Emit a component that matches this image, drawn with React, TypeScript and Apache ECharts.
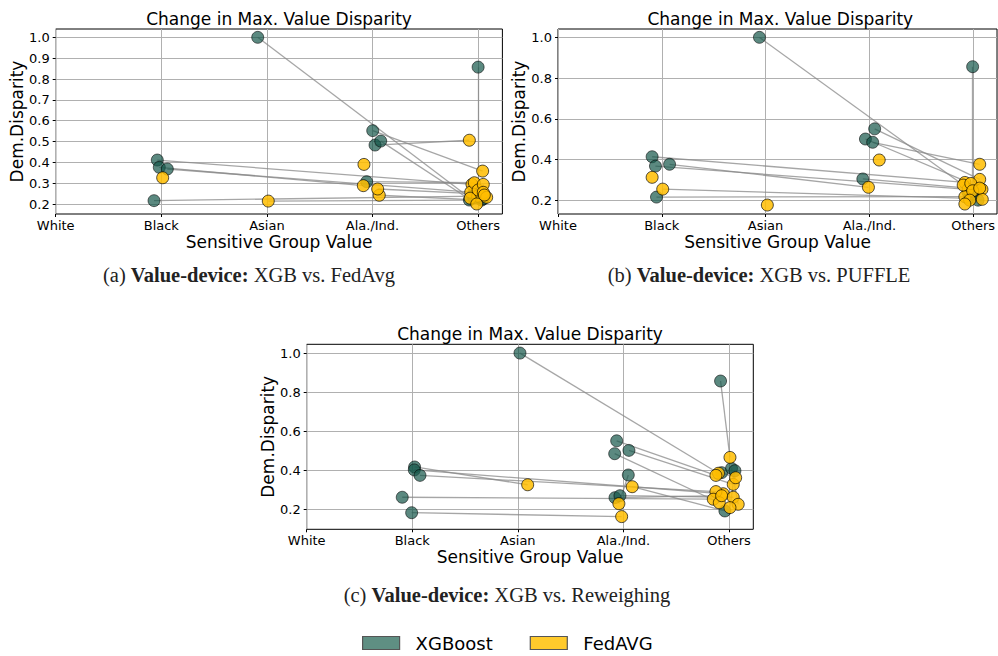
import React, { useEffect, useRef } from 'react';
import * as echarts from 'echarts';

const categories = ['White', 'Black', 'Asian', 'Ala./Ind.', 'Others'];
const xTickValues = [0, 1, 2, 3, 4];
const yTicksA = [0.2, 0.3, 0.4, 0.5, 0.6, 0.7, 0.8, 0.9, 1.0];
const yTicksBC = [0.2, 0.4, 0.6, 0.8, 1.0];

const seriesNames = ['XGBoost', 'FedAVG'];
const panelTitle = 'Change in Max. Value Disparity';
const xAxisTitle = 'Sensitive Group Value';
const yAxisTitle = 'Dem.Disparity';

// Panel (a): XGB vs. FedAvg  (x = group index + jitter); paired XGB -> other model
const aXgbX = [0.962, 0.981, 1.057, 0.931, 1.913, 3.002, 3.024, 3.078, 2.945, 4.000, 3.917, 4.034, 3.960, 4.020, 3.990, 4.050, 3.960];
const aXgbY = [0.411, 0.376, 0.368, 0.216, 1.000, 0.552, 0.483, 0.502, 0.307, 0.857, 0.219, 0.219, 0.250, 0.230, 0.240, 0.225, 0.230];
const aFedX = [3.942, 2.913, 3.930, 3.996, 3.925, 4.043, 3.917, 3.987, 3.964, 4.000, 2.013, 3.064, 3.049, 4.049, 4.049, 4.081, 4.059];
const aFedY = [0.294, 0.288, 0.257, 0.238, 0.228, 0.358, 0.506, 0.200, 0.302, 0.267, 0.214, 0.242, 0.272, 0.294, 0.256, 0.232, 0.243];
// other-model points whose XGB partner stays in the same spot
const aSoloX = [2.919, 1.013];
const aSoloY = [0.390, 0.326];

// Panel (b): XGB vs. PUFFLE
const bXgbX = [0.907, 0.939, 1.075, 0.949, 1.941, 3.051, 2.962, 3.032, 2.937, 3.995, 3.960, 4.047, 4.000, 3.950, 4.030];
const bXgbY = [0.414, 0.368, 0.377, 0.216, 1.000, 0.551, 0.501, 0.485, 0.305, 0.856, 0.210, 0.201, 0.230, 0.240, 0.250];
const bFedX = [3.920, 3.952, 2.991, 3.920, 3.904, 4.063, 3.977, 4.063, 4.085, 3.995, 1.009, 4.088, 3.967, 3.920, 4.063];
const bFedY = [0.288, 0.254, 0.264, 0.218, 0.275, 0.303, 0.283, 0.377, 0.254, 0.247, 0.255, 0.205, 0.201, 0.182, 0.260];
const bSoloX = [2.017, 0.907, 3.095];
const bSoloY = [0.177, 0.313, 0.398];

// Panel (c): XGB vs. Reweighing
const cXgbX = [1.022, 1.019, 1.073, 0.905, 0.994, 2.020, 2.936, 3.052, 2.917, 3.046, 2.920, 2.967, 3.920, 3.961, 3.930, 4.024, 4.056];
const cXgbY = [0.417, 0.402, 0.374, 0.262, 0.183, 1.000, 0.551, 0.502, 0.485, 0.376, 0.260, 0.270, 0.857, 0.192, 0.388, 0.410, 0.398];
const cFedX = [2.093, 3.945, 3.876, 3.851, 2.983, 3.900, 3.876, 4.040, 3.908, 2.957, 3.930, 4.040, 4.009, 3.083, 4.063, 4.087, 4.009];
const cFedY = [0.326, 0.280, 0.291, 0.252, 0.163, 0.385, 0.374, 0.328, 0.234, 0.229, 0.270, 0.262, 0.466, 0.316, 0.362, 0.226, 0.209];
const cSoloX: number[] = [];
const cSoloY: number[] = [];

const captions = [
  { tag: '(a) ', bold: 'Value-device:', rest: ' XGB vs. FedAvg' },
  { tag: '(b) ', bold: 'Value-device:', rest: ' XGB vs. PUFFLE' },
  { tag: '(c) ', bold: 'Value-device:', rest: ' XGB vs. Reweighing' },
];

const panels = [
  { xgbX: aXgbX, xgbY: aXgbY, fedX: aFedX, fedY: aFedY, soloX: aSoloX, soloY: aSoloY, yTicks: yTicksA, yMin: 0.152, yMax: 1.04, xMax: 4.23,
    grid: { left: 55.7, top: 29, width: 446.7, height: 185 }, caption: { x: 249, y: 275 } },
  { xgbX: bXgbX, xgbY: bXgbY, fedX: bFedX, fedY: bFedY, soloX: bSoloX, soloY: bSoloY, yTicks: yTicksBC, yMin: 0.133, yMax: 1.041, xMax: 4.23,
    grid: { left: 558, top: 29, width: 444.6, height: 185 }, caption: { x: 759, y: 275 } },
  { xgbX: cXgbX, xgbY: cXgbY, fedX: cFedX, fedY: cFedY, soloX: cSoloX, soloY: cSoloY, yTicks: yTicksBC, yMin: 0.098, yMax: 1.045, xMax: 4.23,
    grid: { left: 306.7, top: 344.3, width: 446.6, height: 185 }, caption: { x: 507, y: 595 } },
];

const FONT = '"DejaVu Sans", sans-serif';
const SERIF = '"Liberation Serif", "DejaVu Serif", serif';

export default function App() {
  const ref = useRef<HTMLDivElement>(null);
  useEffect(() => {
    if (!ref.current) return;
    const chart = echarts.init(ref.current, undefined, { renderer: 'svg' });

    const grids: any[] = [];
    const xAxes: any[] = [];
    const yAxes: any[] = [];
    const series: any[] = [];
    const graphics: any[] = [];

    panels.forEach((p, i) => {
      grids.push({ ...p.grid, show: true, borderColor: '#000', borderWidth: 1, backgroundColor: 'transparent' });
      xAxes.push({
        type: 'value', gridIndex: i, min: 0, max: p.xMax, interval: 1,
        name: xAxisTitle, nameLocation: 'middle', nameGap: 19,
        nameTextStyle: { fontFamily: FONT, fontSize: 17, color: '#000' },
        axisLine: { show: false },
        axisTick: { show: true, length: 3, lineStyle: { color: '#000' }, customValues: xTickValues },
        axisLabel: {
          fontFamily: FONT, fontSize: 13, color: '#000', margin: 5, customValues: xTickValues,
          formatter: (v: number) => (Number.isInteger(v) ? categories[v] ?? '' : ''),
        },
        splitLine: { show: true, lineStyle: { color: '#b0b0b0', width: 1 } },
      });
      yAxes.push({
        type: 'value', gridIndex: i, min: p.yMin, max: p.yMax,
        name: yAxisTitle, nameLocation: 'middle', nameGap: 30, nameRotate: 90,
        nameTextStyle: { fontFamily: FONT, fontSize: 17, color: '#000' },
        axisLine: { show: false },
        axisTick: { show: true, length: 3, lineStyle: { color: '#000' }, customValues: p.yTicks },
        axisLabel: {
          fontFamily: FONT, fontSize: 13, color: '#000', margin: 6, customValues: p.yTicks,
          formatter: (v: number) => v.toFixed(1),
        },
        splitLine: { show: true, lineStyle: { color: '#b0b0b0', width: 1 } },
      });
      series.push({
        type: 'lines', coordinateSystem: 'cartesian2d', xAxisIndex: i, yAxisIndex: i, silent: true, z: 1,
        lineStyle: { color: '#888888', width: 1.3, opacity: 0.75 },
        data: p.xgbX.map((x, k) => ({ coords: [[x, p.xgbY[k]], [p.fedX[k], p.fedY[k]]] })),
      });
      series.push({
        name: seriesNames[0], type: 'scatter', xAxisIndex: i, yAxisIndex: i, z: 2, symbolSize: 12,
        itemStyle: { color: '#16574a', opacity: 0.7, borderColor: '#000', borderWidth: 0.8 },
        data: p.xgbX.map((x, k) => [x, p.xgbY[k]]),
      });
      series.push({
        name: seriesNames[1], type: 'scatter', xAxisIndex: i, yAxisIndex: i, z: 3, symbolSize: 12,
        itemStyle: { color: '#ffbd00', opacity: 0.85, borderColor: '#000', borderWidth: 0.8 },
        data: p.fedX.map((x, k) => [x, p.fedY[k]]).concat(p.soloX.map((x, k) => [x, p.soloY[k]])),
      });
      graphics.push({
        type: 'text', x: p.grid.left + p.grid.width / 2, y: p.grid.top - 10,
        style: { text: panelTitle, fontFamily: FONT, fontSize: 17, fill: '#000', align: 'center', verticalAlign: 'middle' },
      });
      const c = captions[i];
      graphics.push({
        type: 'text', x: p.caption.x, y: p.caption.y,
        style: {
          text: c.tag + '{b|' + c.bold + '}' + c.rest,
          fontFamily: SERIF, fontSize: 20.5, fill: '#222', align: 'center', verticalAlign: 'middle',
          rich: { b: { fontFamily: SERIF, fontSize: 20.5, fontWeight: 'bold', fill: '#222' } },
        },
      });
    });

    chart.setOption({
      animation: false,
      backgroundColor: '#fff',
      grid: grids,
      xAxis: xAxes,
      yAxis: yAxes,
      series,
      graphic: graphics,
      legend: {
        left: 362, top: 634, padding: 0, icon: 'rect', itemWidth: 37, itemHeight: 13, itemGap: 37,
        selectedMode: false,
        textStyle: { fontFamily: FONT, fontSize: 18, color: '#000', padding: [0, 0, 0, 11] },
        data: [
          { name: seriesNames[0], itemStyle: { color: '#5f8f83', borderColor: '#555', borderWidth: 1.2, opacity: 1 } },
          { name: seriesNames[1], itemStyle: { color: '#ffca2c', borderColor: '#555', borderWidth: 1.2, opacity: 1 } },
        ],
      },
    });
    return () => chart.dispose();
  }, []);
  return (
    <div style={{ position: 'fixed', left: 0, top: 0, width: 998, height: 656, overflow: 'hidden', background: '#fff' }}>
      <div ref={ref} style={{ width: 998, height: 656 }} />
    </div>
  );
}
